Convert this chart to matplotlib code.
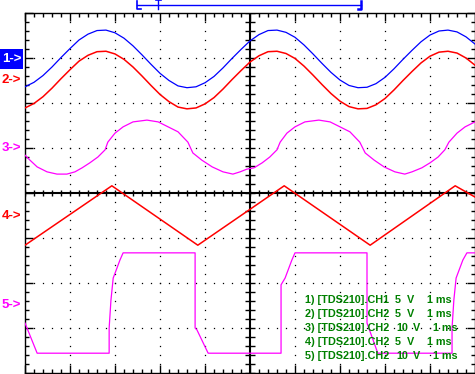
import numpy as np
import matplotlib
matplotlib.use("Agg")
import matplotlib.pyplot as plt

# ---------------- data (time in ms, value in divisions) ----------------
t_sine = np.arange(0, 10.001, 0.2)
ch1 = [2.36, 2.46, 2.61, 2.80, 3.01, 3.21, 3.40, 3.53, 3.61, 3.62, 3.56, 3.44, 3.27,
       3.07, 2.86, 2.66, 2.50, 2.38, 2.34, 2.36, 2.45, 2.59, 2.78, 2.99, 3.19, 3.38,
       3.52, 3.61, 3.62, 3.57, 3.46, 3.29, 3.09, 2.88, 2.68, 2.51, 2.39, 2.34, 2.35,
       2.43, 2.57, 2.76, 2.97, 3.17, 3.36, 3.51, 3.60, 3.62, 3.58, 3.47, 3.31]
ch2 = [1.89, 1.99, 2.14, 2.33, 2.54, 2.74, 2.93, 3.06, 3.14, 3.15, 3.09, 2.97, 2.80,
       2.60, 2.39, 2.19, 2.03, 1.91, 1.87, 1.89, 1.98, 2.12, 2.31, 2.52, 2.72, 2.91,
       3.05, 3.14, 3.15, 3.10, 2.99, 2.82, 2.62, 2.41, 2.21, 2.04, 1.92, 1.87, 1.88,
       1.96, 2.10, 2.29, 2.50, 2.70, 2.89, 3.04, 3.13, 3.15, 3.11, 3.00, 2.84]

t_ch3 = [0, 0.11, 0.27, 0.49, 0.71, 0.93, 1.11, 1.27, 1.44, 1.62, 1.78, 1.84, 2.00,
         2.18, 2.40, 2.71, 2.96, 3.18, 3.40, 3.62, 3.73, 3.93, 4.16, 4.40, 4.62, 4.78,
         4.93, 5.09, 5.27, 5.44, 5.60, 5.67, 5.82, 6.00, 6.22, 6.53, 6.78, 7.00, 7.22,
         7.44, 7.56, 7.76, 7.98, 8.22, 8.44, 8.60, 8.82, 9.00, 9.18, 9.33, 9.42, 9.60,
         9.78, 10.0]
ch3 = [0.84, 0.73, 0.58, 0.47, 0.42, 0.42, 0.47, 0.56, 0.67, 0.80, 0.96, 1.13, 1.33,
       1.47, 1.58, 1.62, 1.58, 1.47, 1.36, 1.13, 0.89, 0.73, 0.58, 0.47, 0.42, 0.47,
       0.53, 0.56, 0.67, 0.80, 0.96, 1.13, 1.33, 1.47, 1.58, 1.62, 1.58, 1.47, 1.36,
       1.13, 0.89, 0.73, 0.58, 0.47, 0.42, 0.47, 0.56, 0.67, 0.80, 0.96, 1.13, 1.33,
       1.47, 1.58]

t_ch4 = [0.0, 1.93, 3.84, 5.76, 7.67, 9.56, 10.0]
ch4 = [-1.16, 0.16, -1.16, 0.16, -1.16, 0.16, -0.09]

t_ch5 = [0.0, 0.27, 1.87, 1.87, 1.91, 1.96, 2.11, 2.18, 3.78, 3.78, 3.82, 4.07,
         5.69, 5.69, 5.78, 5.93, 6.00, 7.60, 7.60, 7.84, 9.49, 9.49, 9.53, 9.58,
         9.73, 9.82, 10.0]
ch5 = [-2.89, -3.56, -3.56, -3.00, -2.38, -1.89, -1.49, -1.33, -1.33, -3.00, -3.04,
       -3.56, -3.56, -2.04, -1.89, -1.49, -1.33, -1.33, -2.89, -3.56, -3.56, -3.00,
       -2.38, -1.89, -1.49, -1.33, -1.33]

marker_labels = ["1->", "2->", "3->", "4->", "5->"]
marker_levels = [2.98, 2.51, 1.00, -0.51, -2.49]
trace_colors = ["#0000FF", "#FF0000", "#FF00FF", "#FF0000", "#FF00FF"]

legend_prefix = ["1) [TDS210].CH1", "2) [TDS210].CH2", "3) [TDS210].CH2",
                 "4) [TDS210].CH2", "5) [TDS210].CH2"]
legend_volts = ["5", "5", "10", "5", "10"]
legend_time = ["1 ms", "1 ms", "1 ms", "1 ms", "1 ms"]

# trigger / window bracket at top (time ms)
bracket_start, bracket_end, trig_pos = 2.49, 7.47, 2.96

# ---------------- figure ----------------
W, H = 475, 374
fig = plt.figure(figsize=(W / 100, H / 100), dpi=100)
fig.patch.set_facecolor("white")
ax = fig.add_axes([25 / W, 1 / H, 450 / W, 360 / H])
ax.set_xlim(0, 10)
ax.set_ylim(-4, 4)
ax.set_facecolor("white")

for s in ax.spines.values():
    s.set_color("black")
    s.set_linewidth(1.0)

ax.set_xticks(np.arange(0, 11, 1))
ax.set_yticks(np.arange(-4, 5, 1))
ax.set_xticks(np.arange(0, 10.001, 0.2), minor=True)
ax.set_yticks(np.arange(-4, 4.001, 0.2), minor=True)
ax.tick_params(which="both", direction="in", top=True, right=True,
               labelbottom=False, labelleft=False, color="black", width=1.0)
ax.tick_params(which="major", length=5.5)
ax.tick_params(which="minor", length=2.8)

# dotted grid
gy = np.arange(-4, 4.001, 0.2)
gx = np.arange(0, 10.001, 0.2)
for xv in range(1, 10):
    if xv == 5:
        continue
    ax.plot(np.full_like(gy, xv), gy, ls="none", marker="s", ms=0.9, mew=0,
            color="black", zorder=1)
for yv in range(-3, 4):
    if yv == 0:
        continue
    ax.plot(gx, np.full_like(gx, yv), ls="none", marker="s", ms=0.9, mew=0,
            color="black", zorder=1)

# center axes with ticks
ax.axhline(0, color="black", lw=1.5, zorder=2)
ax.axvline(5, color="black", lw=1.5, zorder=2)
ax.plot(gx, np.zeros_like(gx), ls="none", marker="|", ms=5, mew=1.0,
        color="black", zorder=2)
ax.plot(np.full_like(gy, 5), gy, ls="none", marker="_", ms=7, mew=1.0,
        color="black", zorder=2)

# traces
ax.plot(t_sine, ch1, color=trace_colors[0], lw=0.9, zorder=3)
ax.plot(t_sine, ch2, color=trace_colors[1], lw=1.1, zorder=3)
ax.plot(t_ch3, ch3, color=trace_colors[2], lw=0.9, zorder=3)
ax.plot(t_ch4, ch4, color=trace_colors[3], lw=1.1, zorder=3)
ax.plot(t_ch5, ch5, color=trace_colors[4], lw=0.9, zorder=3)

# top bracket
top_v = 4.18
ax.plot([bracket_start, bracket_end], [top_v, top_v], color="#0000FF", lw=1.0,
        clip_on=False)
ax.plot([bracket_start, bracket_start, bracket_start + 0.08], [4.27, 4.09, 4.09],
        color="#0000FF", lw=1.2, clip_on=False)
ax.plot([bracket_end, bracket_end, bracket_end - 0.06], [4.27, 4.09, 4.09],
        color="#0000FF", lw=1.8, clip_on=False)
ax.plot([trig_pos, trig_pos], [4.28, 4.09], color="#0000FF", lw=1.0, clip_on=False)
ax.plot([trig_pos - 0.06, trig_pos + 0.06], [4.28, 4.28], color="#0000FF", lw=1.2,
        clip_on=False)

# channel markers on left
for i, (lab, lev, col) in enumerate(zip(marker_labels, marker_levels, trace_colors)):
    y_fig = ax.transData.transform((0, lev))[1] / H
    if i == 0:
        fig.patches.append(plt.Rectangle((0, y_fig - 10 / H), 23 / W, 20 / H,
                                         transform=fig.transFigure,
                                         facecolor="#0000FF", edgecolor="none"))
        fig.text(2 / W, y_fig, lab, color="white", fontsize=9.5, fontweight="bold",
                 family="Liberation Sans", va="center", ha="left")
    else:
        fig.text(2 / W, y_fig, lab, color=col, fontsize=9.5, fontweight="bold",
                 family="Liberation Sans", va="center", ha="left")

# legend text
row_y = [300, 314, 328, 342, 356]
for i in range(5):
    fy = 1 - row_y[i] / H
    kw = dict(color="#008000", fontsize=7.8, fontweight="bold",
              family="Liberation Sans", va="center", ha="left")
    fig.text(305 / W, fy, legend_prefix[i], **kw)
    if len(legend_volts[i]) == 1:
        fig.text(395 / W, fy, legend_volts[i], **kw)
        fig.text(407 / W, fy, "V", **kw)
        fig.text(427 / W, fy, legend_time[i], **kw)
    else:
        fig.text(396 / W, fy, legend_volts[i], **kw)
        fig.text(413 / W, fy, "V", **kw)
        fig.text(433 / W, fy, legend_time[i], **kw)

fig.savefig("out.png", dpi=100)
